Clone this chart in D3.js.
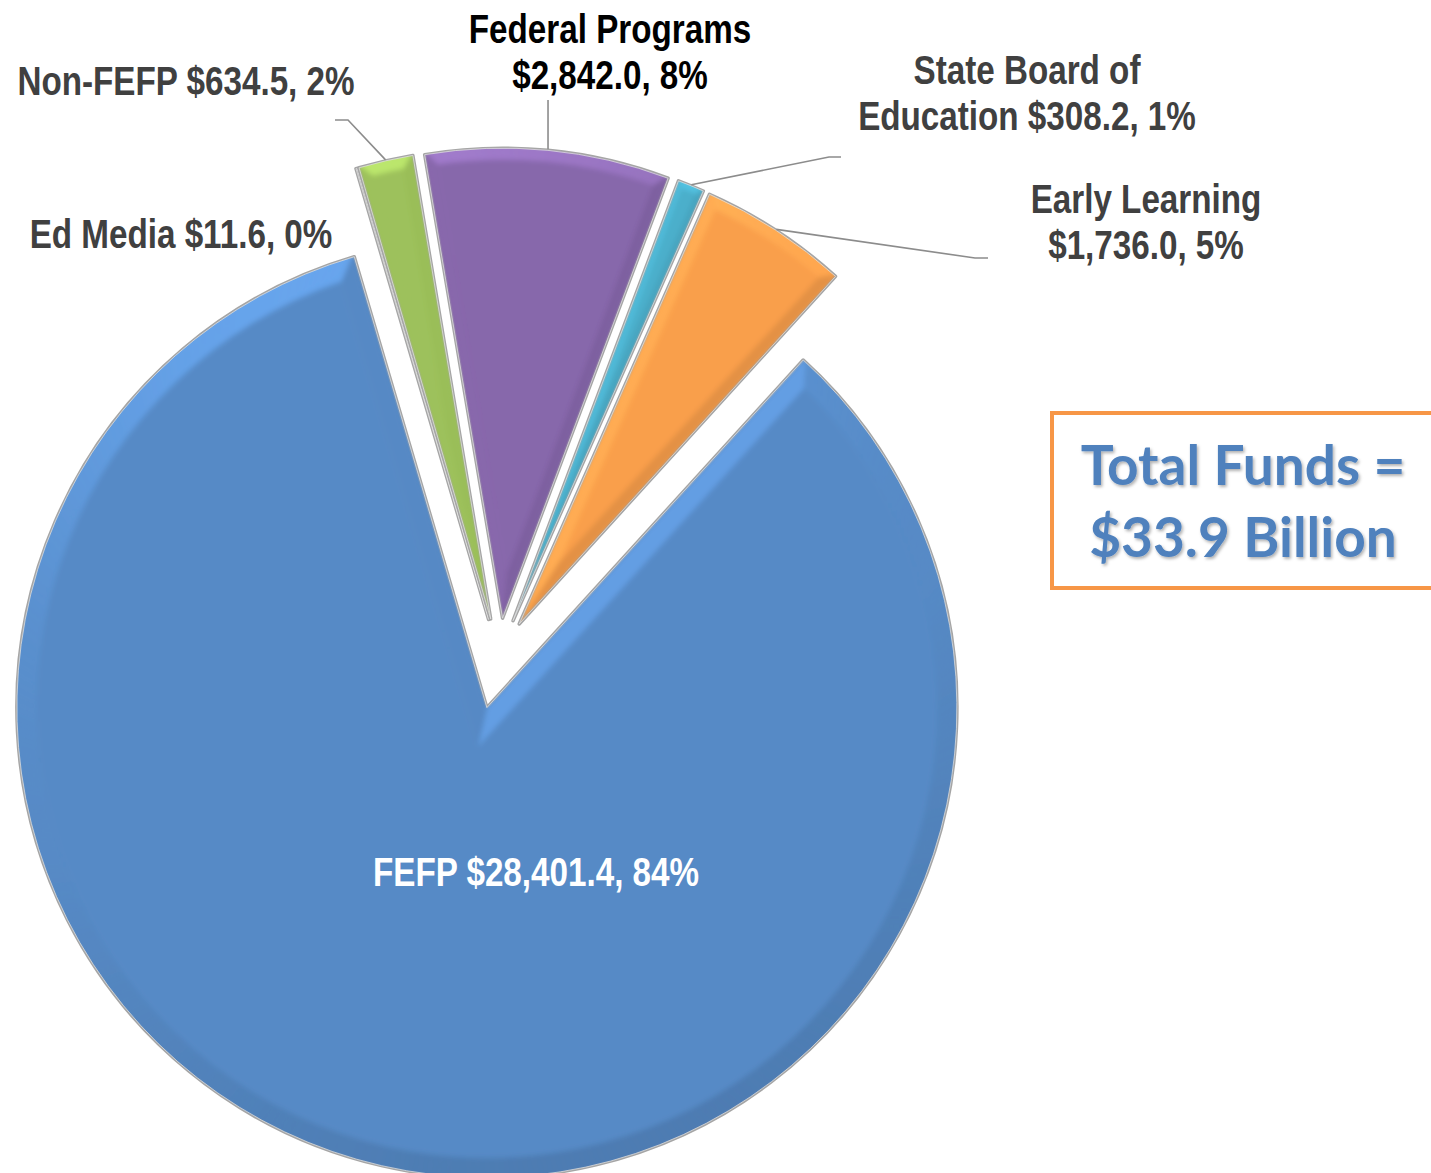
<!DOCTYPE html>
<html>
<head>
<meta charset="utf-8">
<script src="https://cdn.jsdelivr.net/npm/d3@7"></script>
<style>
body{margin:0;background:#fff;}
svg{display:block;}
.lbl{font-family:"Liberation Sans",Arial,sans-serif;font-weight:bold;font-size:41px;}
.total{font-family:Lato,"Open Sans",sans-serif;font-weight:bold;font-size:55px;fill:#4f81bd;}
</style>
</head>
<body>
<div id="chart"></div>
<script>
// budget categories, millions of dollars
var categories = ["FEFP", "Ed Media", "Non-FEFP", "Federal Programs", "State Board of Education", "Early Learning"];
var funds = [28401.4, 11.6, 634.5, 2842.0, 308.2, 1736.0];
var colors = ["#568ac6", "#c0504d", "#9dc15b", "#8767ab", "#4bafcb", "#f99f4c"];

var width = 1431, height = 1173;
var cx = 499, cy = 655, R = 470;
var startDeg = 42.3;
var explode = [54, 37, 37, 37, 37, 37];
var narrow = 0.81; // squeeze Liberation Sans to an Arial Narrow look

// label placement (x centre, first baseline, words on first line, leader elbow/end)
var labelLayout = [
    {x: 536, y: 886, brk: 0, fill: "#fff"},
    {x: 181, y: 248, brk: 0, fill: "#404040"},
    {x: 186, y: 95, brk: 0, fill: "#404040", leader: [[348, 120], [335, 120]]},
    {x: 610, y: 43, brk: 2, fill: "#000", leader: [[null, 100]]},
    {x: 1027, y: 84, brk: 3, fill: "#404040", leader: [[829, 157], [841, 157]]},
    {x: 1146, y: 213, brk: 2, fill: "#404040", leader: [[975, 258], [988, 258]]}
];
var lineGap = 46;

var data = categories.map(function(c, i){ return {name: c, value: funds[i], color: colors[i]}; });
var total = d3.sum(funds);
var fmtVal = d3.format("$,.1f"), fmtPct = d3.format(".0%");

var svg = d3.select("#chart").append("svg")
    .attr("width", width)
    .attr("height", height);

var defs = svg.append("defs");
var shadow = defs.append("filter").attr("id", "tshadow")
    .attr("x", "-10%").attr("y", "-20%").attr("width", "120%").attr("height", "140%");
shadow.append("feDropShadow").attr("dx", 1.5).attr("dy", 2).attr("stdDeviation", 1.5)
    .attr("flood-color", "#000").attr("flood-opacity", 0.3);
defs.append("filter").attr("id", "soft")
    .append("feGaussianBlur").attr("stdDeviation", 2.5);

var a0 = startDeg * Math.PI / 180;
var pie = d3.pie().sort(null).value(function(d){ return d.value; })
    .startAngle(a0).endAngle(a0 + 2 * Math.PI);
var arcs = pie(data);

var arc = d3.arc().innerRadius(0).outerRadius(R);

function dir(a){ return [Math.sin(a), -Math.cos(a)]; }
function pt(r, a){ return [r * Math.sin(a), -r * Math.cos(a)]; }
var Lx = -0.32, Ly = -0.95, Ln = Math.sqrt(Lx*Lx + Ly*Ly);
Lx /= Ln; Ly /= Ln;
function shade(base, n){
    var k = n[0]*Lx + n[1]*Ly;
    return k > 0 ? d3.color(base).brighter(0.5*k*k).formatHex() : d3.color(base).darker(0.3*(-k)).formatHex();
}
var line = d3.line();

var slices = svg.append("g").selectAll("g")
    .data(arcs)
    .enter()
    .append("g")
    .attr("transform", function(d, i){
        var m = (d.startAngle + d.endAngle) / 2;
        return "translate(" + (cx + explode[i]*Math.sin(m)) + "," + (cy - explode[i]*Math.cos(m)) + ")";
    });

slices.append("clipPath")
    .attr("id", function(d, i){ return "clip" + i; })
    .append("path")
    .attr("d", arc);

// rim
slices.append("path")
    .attr("d", arc)
    .attr("fill", function(d){ return d.data.color; })
    .attr("stroke", "#a5a5a5")
    .attr("stroke-width", 3.5)
    .attr("stroke-linejoin", "round");

// bevel facets
slices.each(function(d, i){
    var g = d3.select(this).append("g")
        .attr("clip-path", "url(#clip" + i + ")")
        .append("g")
        .attr("filter", "url(#soft)");
    var s0 = d.startAngle, s1 = d.endAngle;
    var h = (s1 - s0) / 2, m = (s0 + s1) / 2;
    if (h < 0.01) return;
    var base = d.data.color;
    var bw = i == 0 ? 20 : 12;
    var sh = Math.sin(h);
    if (h < Math.PI / 2) bw = Math.min(bw, 0.45 * R * sh / (1 + sh));
    var off = [dir(m)[0] * bw / sh, dir(m)[1] * bw / sh];
    function corner(a, ref){
        var u = dir(a);
        var b = off[0]*u[0] + off[1]*u[1];
        var ww = off[0]*off[0] + off[1]*off[1];
        var t = -b + Math.sqrt(b*b - ww + (R-bw)*(R-bw));
        var p = [off[0] + t*u[0], off[1] + t*u[1]];
        var ang = Math.atan2(p[0], -p[1]);
        while (ang < ref - Math.PI) ang += 2*Math.PI;
        while (ang > ref + Math.PI) ang -= 2*Math.PI;
        return ang;
    }
    var b0 = corner(s0, s0), b1 = corner(s1, s1);
    var facets = [];
    facets.push({pts: [[0,0], pt(R+4, s0), pt(R-bw, b0), off], n: [-Math.cos(s0), -Math.sin(s0)]});
    facets.push({pts: [[0,0], pt(R+4, s1), pt(R-bw, b1), off], n: [Math.cos(s1), Math.sin(s1)]});
    var N = Math.max(1, Math.ceil((s1 - s0) / (1.2 * Math.PI / 180)));
    for (var j = 0; j < N; j++){
        var t0 = j / N, t1 = (j + 1) / N;
        var o0 = s0 + (s1 - s0)*t0, o1 = s0 + (s1 - s0)*t1;
        var n0 = b0 + (b1 - b0)*t0, n1 = b0 + (b1 - b0)*t1;
        facets.push({pts: [pt(R+4, o0), pt(R+4, o1), pt(R-bw, n1), pt(R-bw, n0)], n: dir((o0 + o1)/2)});
    }
    g.selectAll("path.facet")
        .data(facets)
        .enter()
        .append("path")
        .attr("class", "facet")
        .attr("d", function(f){ return line(f.pts) + "Z"; })
        .attr("fill", function(f){ return shade(base, f.n); })
        .attr("stroke", function(f){ return shade(base, f.n); })
        .attr("stroke-width", 0.6);
    var p = d3.path();
    p.moveTo(off[0], off[1]);
    var c0 = pt(R-bw, b0);
    p.lineTo(c0[0], c0[1]);
    p.arc(0, 0, R-bw, b0 - Math.PI/2, b1 - Math.PI/2);
    p.closePath();
    g.append("path")
        .attr("d", p.toString())
        .attr("fill", base)
        .attr("stroke", base)
        .attr("stroke-width", 0.6);
});

// light inner rim line
slices.append("path")
    .attr("d", arc)
    .attr("fill", "none")
    .attr("stroke", "#e6e6e6")
    .attr("stroke-width", 1)
    .attr("stroke-opacity", 0.7);

// leader lines
arcs.forEach(function(d, i){
    var lay = labelLayout[i];
    if (!lay.leader) return;
    var m = (d.startAngle + d.endAngle) / 2;
    var ox = cx + explode[i]*Math.sin(m) + (R + 1)*Math.sin(m);
    var oy = cy - explode[i]*Math.cos(m) - (R + 1)*Math.cos(m);
    var pts = [[ox, oy]].concat(lay.leader.map(function(p){ return [p[0] == null ? ox : p[0], p[1]]; }));
    svg.append("path")
        .attr("d", line(pts))
        .attr("fill", "none")
        .attr("stroke", "#8c8c8c")
        .attr("stroke-width", 1.6);
});

// data labels
arcs.forEach(function(d, i){
    var lay = labelLayout[i];
    var words = (d.data.name + " " + fmtVal(d.data.value) + ", " + fmtPct(d.data.value / total)).split(" ");
    var lines = lay.brk ? [words.slice(0, lay.brk).join(" "), words.slice(lay.brk).join(" ")] : [words.join(" ")];
    var txt = svg.append("text")
        .attr("class", "lbl")
        .attr("text-anchor", "middle")
        .attr("transform", "translate(" + lay.x + "," + lay.y + ") scale(" + narrow + ",1)")
        .attr("fill", lay.fill);
    lines.forEach(function(l, k){
        txt.append("tspan").attr("x", 0).attr("y", k*lineGap).text(l);
    });
});

// total box
svg.append("rect")
    .attr("x", 1052).attr("y", 413)
    .attr("width", 420).attr("height", 175)
    .attr("fill", "#fff")
    .attr("stroke", "#f79646")
    .attr("stroke-width", 4);
var totalLines = ["Total Funds =", d3.format("$.1f")(total / 1000) + " Billion"];
svg.append("text")
    .attr("class", "total")
    .attr("text-anchor", "middle")
    .attr("filter", "url(#tshadow)")
    .selectAll("tspan")
    .data(totalLines)
    .enter()
    .append("tspan")
    .attr("x", 1243)
    .attr("y", function(d, k){ return 485 + k*72; })
    .text(function(d){ return d; });
</script>
</body>
</html>
